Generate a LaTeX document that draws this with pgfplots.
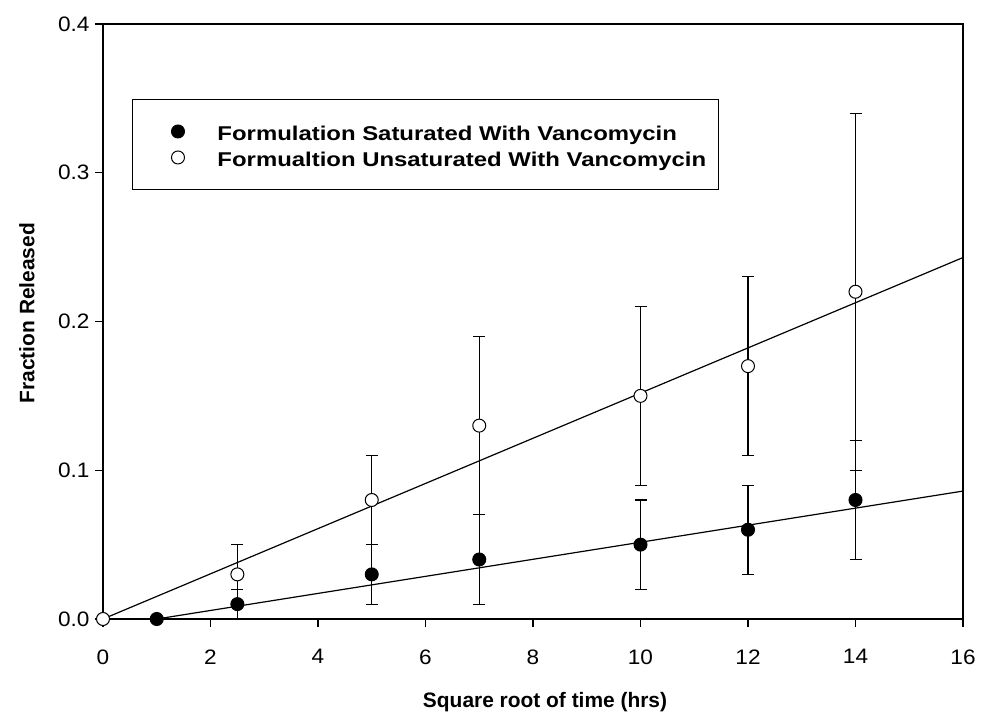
\documentclass[border=0pt]{standalone}
\usepackage{fontspec}
\setmainfont{Liberation Sans}
\newfontfamily\legendfont{Liberation Sans}[FakeStretch=1.2]
\newfontfamily\tickfont{Liberation Sans}[FakeStretch=1.08]
\usepackage{pgfplots}
\usepackage{pgfplotstable}
\pgfplotsset{compat=1.18}

% Vancomycin release: fraction released vs square root of time
\pgfplotstableread{
x    y     e
1    0.00  0.00
2.5  0.01  0.01
5    0.03  0.02
7    0.04  0.03
10   0.05  0.03
12   0.06  0.03
14   0.08  0.04
}\saturated

\pgfplotstableread{
x    y     e
0    0.00  0.00
2.5  0.03  0.02
5    0.08  0.03
7    0.13  0.06
10   0.15  0.06
12   0.17  0.06
14   0.22  0.12
}\unsaturated

% fitted release lines
\pgfplotstableread{
x   y
1   0.000
16  0.086
}\satfit

\pgfplotstableread{
x   y
0   0.000
16  0.243
}\unsatfit

\begin{document}
\begin{tikzpicture}
\useasboundingbox (-103bp,-97bp) rectangle (878bp,619bp);
\begin{axis}[
  scale only axis,
  width=860bp, height=595bp,
  xmin=0, xmax=16, ymin=0, ymax=0.4,
  xtick={0,2,...,16},
  ytick={0,0.1,0.2,0.3,0.4},
  xtick pos=bottom, ytick pos=left,
  axis line style={line width=1.1bp},
  tick align=outside,
  major tick length=8bp,
  tick style={line width=1.1bp, black},
  /pgf/number format/assume math mode=true,
  yticklabel style={/pgf/number format/fixed, /pgf/number format/fixed zerofill, /pgf/number format/precision=1, xshift=-2bp},
  ticklabel style={font=\tickfont\fontsize{21}{25}\selectfont},
  xticklabel style={yshift=-19bp},
  xlabel={Square root of time (hrs)},
  ylabel={Fraction Released},
  xlabel style={font=\bfseries\fontsize{21}{25}\selectfont, at={(axis description cs:0.514,-0.1395)}, anchor=center},
  ylabel style={font=\bfseries\fontsize{21}{25}\selectfont, at={(axis description cs:-0.0884,0.514)}, anchor=center},
  legend style={
    at={(axis description cs:0.0337,0.874)}, anchor=north west,
    draw=black, line width=1bp,
    inner xsep=12bp, inner ysep=20bp,
    row sep=2bp,
    font=\legendfont\bfseries\fontsize{20}{24}\selectfont,
    nodes={inner sep=0pt, text height=21bp, text depth=3bp},
    /tikz/every odd column/.append style={column sep=33bp},
  },
  legend cell align=left,
  legend image code/.code={\path (-33bp,0bp);\draw[#1] plot coordinates {(0bp,0bp)};},
]
\addplot[black, line width=1.2bp, forget plot] table[x=x,y=y] {\unsatfit};
\addplot[black, line width=1.2bp, forget plot] table[x=x,y=y] {\satfit};

\addplot[only marks, mark=*, mark size=6.5bp,
  mark options={fill=black, draw=black, line width=1bp},
  error bars/.cd, y dir=both, y explicit,
  error bar style={line width=1.2bp, black},
  error mark options={rotate=90, mark size=6bp, line width=1.2bp, black}]
  table[x=x, y=y, y error=e] {\saturated};
\addlegendentry{Formulation Saturated With Vancomycin}

\addplot[only marks, mark=*, mark size=6.5bp,
  mark options={fill=white, draw=black, line width=1bp},
  error bars/.cd, y dir=both, y explicit,
  error bar style={line width=1.2bp, black},
  error mark options={rotate=90, mark size=6bp, line width=1.2bp, black}]
  table[x=x, y=y, y error=e] {\unsaturated};
\addlegendentry{Formualtion Unsaturated With Vancomycin}
\end{axis}
\end{tikzpicture}
\end{document}
